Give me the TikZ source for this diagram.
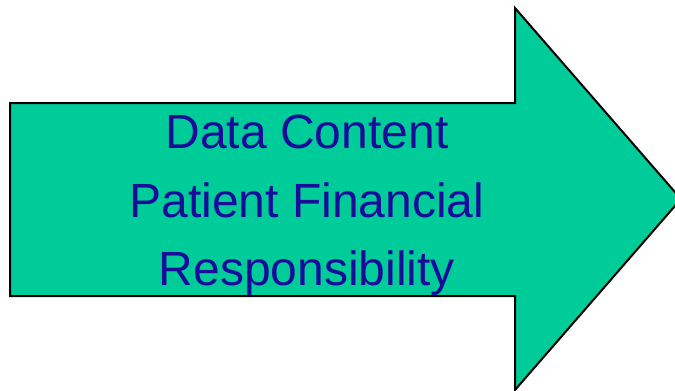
\documentclass[tikz,border=0pt]{standalone}
\usepackage{fontspec}
\setmainfont{Liberation Sans}
\usepackage{tikz}

\definecolor{arrowgreen}{RGB}{0,204,153}
\definecolor{labelblue}{RGB}{25,12,155}

\tikzset{
  bigarrow/.style={draw=black, line width=2pt, line join=miter, fill=arrowgreen},
  arrowtext/.style={anchor=base, text=labelblue, inner sep=0pt,
    font=\fontsize{48}{68}\selectfont}
}

\begin{document}
\begin{tikzpicture}[x=1pt, y=-1pt]
  \useasboundingbox (0, 0) rectangle (675, 391);

  % fleche
    \draw[bigarrow] (10, 103) -- (515, 103) -- (515, 8) -- (681, 199)
      -- (515, 390) -- (515, 296) -- (10, 296) -- cycle;

  % texte
    \node[arrowtext] at (307, 148) (data) {Data Content};
    \node[arrowtext] at (307, 217) (patient) {Patient Financial};
    \node[arrowtext] at (307, 285) (resp) {Responsibility};
\end{tikzpicture}
\end{document}
